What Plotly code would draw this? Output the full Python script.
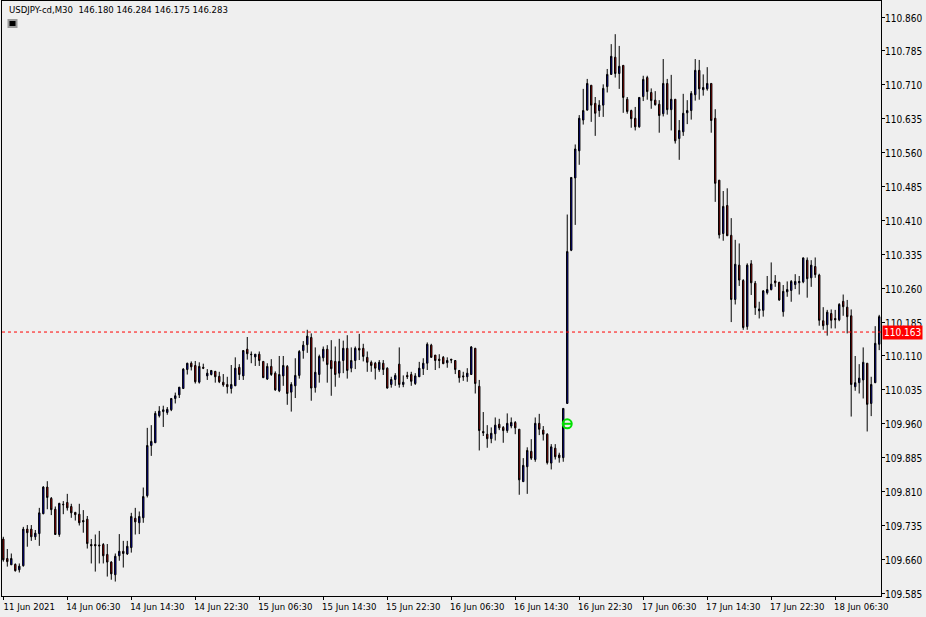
import plotly.graph_objects as go

opens = [109.705,109.662,109.648,109.649,109.637,109.646,109.727,109.727,109.710,109.717,109.761,109.820,109.795,109.771,109.715,109.782,109.786,109.777,109.764,109.760,
109.746,109.749,109.693,109.693,109.692,109.693,109.671,109.654,109.626,109.668,109.678,109.672,109.686,109.751,109.741,109.752,109.801,109.912,109.918,109.978,
109.987,109.985,109.991,110.016,110.024,110.038,110.080,110.094,110.089,110.052,110.085,110.066,110.069,110.076,110.065,110.052,110.047,110.038,110.044,110.085,
110.066,110.125,110.114,110.108,110.114,110.098,110.059,110.087,110.072,110.033,110.066,110.087,110.030,110.044,110.067,110.122,110.135,110.151,110.040,110.069,
110.106,110.125,110.100,110.098,110.072,110.100,110.127,110.083,110.100,110.127,110.127,110.107,110.096,110.094,110.080,110.094,110.083,110.047,110.058,110.092,
110.047,110.067,110.069,110.049,110.064,110.082,110.094,110.134,110.112,110.103,110.107,110.095,110.103,110.100,110.078,110.066,110.064,110.069,110.127,110.043,
109.943,109.937,109.927,109.938,109.959,109.952,109.945,109.955,109.963,109.948,109.832,109.865,109.899,109.881,109.961,109.946,109.937,109.873,109.906,109.891,
109.885,110.005,110.344,110.504,110.564,110.632,110.654,110.709,110.669,110.653,110.665,110.706,110.733,110.771,110.735,110.753,110.678,110.653,110.636,110.617,
110.684,110.726,110.693,110.676,110.667,110.646,110.713,110.655,110.678,110.591,110.606,110.648,110.653,110.688,110.742,110.699,110.701,110.713,110.636,110.499,
110.381,110.443,110.377,110.235,110.311,110.277,110.175,110.314,110.271,110.210,110.211,110.250,110.257,110.276,110.273,110.208,110.252,110.255,110.268,110.272,
110.274,110.322,110.283,110.308,110.289,110.188,110.179,110.204,110.193,110.190,110.231,110.218,110.199,110.042,110.051,110.057,110.094,110.005,110.051,110.136]

highs = [109.710,109.683,109.673,109.651,109.651,109.732,109.736,109.736,109.725,109.774,109.822,109.833,109.798,109.777,109.785,109.789,109.805,109.783,109.765,109.783,
109.769,109.756,109.705,109.715,109.723,109.696,109.694,109.656,109.673,109.716,109.701,109.701,109.763,109.774,109.766,109.819,109.951,109.957,109.988,109.999,
110.000,109.997,110.016,110.029,110.041,110.083,110.095,110.098,110.099,110.096,110.093,110.081,110.079,110.077,110.075,110.070,110.064,110.090,110.107,110.092,
110.123,110.152,110.120,110.114,110.120,110.098,110.094,110.103,110.076,110.110,110.110,110.090,110.052,110.105,110.123,110.143,110.168,110.160,110.129,110.113,
110.131,110.134,110.145,110.131,110.148,110.144,110.156,110.129,110.131,110.159,110.137,110.120,110.100,110.097,110.101,110.101,110.085,110.064,110.072,110.129,
110.067,110.075,110.075,110.072,110.097,110.105,110.140,110.137,110.112,110.114,110.110,110.107,110.103,110.101,110.079,110.075,110.083,110.132,110.128,110.057,
109.986,109.957,109.952,109.974,109.971,109.955,109.983,109.974,109.966,109.948,109.884,109.908,109.926,109.974,109.982,109.955,109.939,109.915,109.915,109.896,
109.994,110.423,110.505,110.578,110.643,110.701,110.723,110.709,110.683,110.676,110.711,110.745,110.800,110.822,110.796,110.753,110.683,110.655,110.661,110.682,
110.730,110.730,110.702,110.696,110.676,110.767,110.723,110.732,110.678,110.632,110.690,110.676,110.696,110.767,110.765,110.733,110.749,110.713,110.656,110.499,
110.475,110.481,110.415,110.367,110.359,110.280,110.315,110.322,110.276,110.230,110.256,110.287,110.317,110.289,110.274,110.267,110.275,110.278,110.291,110.287,
110.328,110.328,110.322,110.328,110.292,110.218,110.212,110.213,110.212,110.227,110.246,110.234,110.213,110.110,110.092,110.129,110.094,110.064,110.176,110.201]

lows = [109.655,109.644,109.648,109.633,109.631,109.644,109.688,109.701,109.703,109.690,109.760,109.771,109.758,109.715,109.710,109.760,109.768,109.752,109.746,109.735,
109.719,109.684,109.651,109.633,109.651,109.651,109.622,109.615,109.611,109.657,109.642,109.670,109.675,109.715,109.716,109.741,109.797,109.889,109.918,109.974,
109.953,109.980,109.988,110.005,110.017,110.038,110.069,110.078,110.049,110.049,110.081,110.057,110.067,110.051,110.050,110.042,110.027,110.027,110.044,110.057,
110.057,110.102,110.094,110.088,110.088,110.062,110.057,110.066,110.033,110.030,110.044,110.002,109.987,110.017,110.060,110.104,110.117,110.011,110.029,110.051,
110.098,110.051,110.022,110.042,110.062,110.072,110.060,110.074,110.081,110.101,110.098,110.075,110.075,110.058,110.075,110.068,110.038,110.040,110.044,110.040,
110.041,110.059,110.044,110.046,110.064,110.068,110.079,110.106,110.079,110.083,110.092,110.084,110.094,110.070,110.051,110.055,110.053,110.068,110.027,109.901,
109.933,109.907,109.917,109.923,109.946,109.918,109.940,109.950,109.937,109.803,109.832,109.805,109.880,109.876,109.935,109.923,109.870,109.859,109.881,109.874,
109.876,110.005,110.342,110.400,110.533,110.622,110.653,110.628,110.597,110.639,110.639,110.693,110.732,110.726,110.701,110.648,110.646,110.615,110.609,110.615,
110.674,110.677,110.657,110.664,110.604,110.640,110.644,110.609,110.580,110.544,110.597,110.623,110.633,110.675,110.677,110.686,110.697,110.604,110.451,110.370,
110.365,110.376,110.185,110.224,110.265,110.168,110.168,110.245,110.201,110.193,110.197,110.246,110.255,110.263,110.232,110.197,110.241,110.230,110.258,110.246,
110.271,110.239,110.263,110.283,110.177,110.168,110.155,110.171,110.171,110.187,110.199,110.160,109.976,110.033,110.027,110.016,109.943,109.977,110.050,110.123]

closes = [109.659,109.655,109.662,109.635,109.645,109.727,109.719,109.710,109.718,109.763,109.820,109.797,109.770,109.715,109.784,109.781,109.774,109.763,109.759,109.741,
109.743,109.695,109.690,109.690,109.690,109.668,109.654,109.628,109.667,109.678,109.673,109.689,109.755,109.743,109.755,109.799,109.912,109.921,109.983,109.988,
109.991,109.992,110.016,110.022,110.041,110.081,110.094,110.086,110.053,110.087,110.083,110.072,110.078,110.064,110.053,110.046,110.042,110.047,110.083,110.069,
110.122,110.115,110.113,110.114,110.100,110.062,110.087,110.069,110.035,110.069,110.089,110.027,110.047,110.067,110.120,110.134,110.154,110.039,110.074,110.109,
110.125,110.091,110.082,110.069,110.098,110.127,110.078,110.100,110.127,110.123,110.109,110.096,110.089,110.083,110.096,110.080,110.039,110.058,110.067,110.047,
110.052,110.064,110.054,110.066,110.083,110.094,110.136,110.107,110.100,110.100,110.093,110.100,110.101,110.080,110.062,110.064,110.072,110.130,110.049,109.945,
109.940,109.927,109.939,109.957,109.951,109.945,109.961,109.963,109.951,109.836,109.868,109.901,109.884,109.961,109.948,109.937,109.874,109.909,109.887,109.885,
109.994,110.341,110.505,110.568,110.636,110.653,110.713,110.665,110.647,110.665,110.702,110.733,110.773,110.735,110.751,110.682,110.651,110.635,110.617,110.682,
110.722,110.695,110.675,110.666,110.642,110.713,110.655,110.678,110.586,110.609,110.647,110.653,110.691,110.742,110.701,110.704,110.713,110.631,110.492,110.378,
110.441,110.376,110.235,110.313,110.278,110.173,110.311,110.272,110.217,110.214,110.254,110.257,110.269,110.272,110.234,110.253,110.257,110.275,110.275,110.275,
110.327,110.281,110.311,110.290,110.189,110.177,110.207,110.189,110.190,110.224,110.219,110.197,110.047,110.051,110.061,110.096,110.003,110.047,110.138,110.197]

price_ticks = [110.860,110.785,110.710,110.635,110.560,110.485,110.410,110.335,110.260,110.185,110.110,110.035,109.960,109.885,109.810,109.735,109.660,109.585]
time_tick_index = [0,16,32,48,64,80,96,112,128,144,160,176,192,208]
time_tick_text = ["11 Jun 2021","14 Jun 06:30","14 Jun 14:30","14 Jun 22:30","15 Jun 06:30","15 Jun 14:30","15 Jun 22:30",
                  "16 Jun 06:30","16 Jun 14:30","16 Jun 22:30","17 Jun 06:30","17 Jun 14:30","17 Jun 22:30","18 Jun 06:30"]
bid_price = 110.163
signal_index = [141]
signal_price = [109.960]
header = "USDJPY-cd,M30&nbsp;&nbsp;146.180 146.284 146.175 146.283"

FONT = "DejaVu Sans Condensed, DejaVu Sans"
BG = "#EFEFEF"
GREEN = "#00E000"
x = list(range(len(opens)))

fig = go.Figure()
fig.add_trace(go.Candlestick(
    x=x, open=opens, high=highs, low=lows, close=closes,
    increasing=dict(fillcolor="#0000CC", line=dict(color="#000000", width=1)),
    decreasing=dict(fillcolor="#CC0000", line=dict(color="#000000", width=1)),
    whiskerwidth=0, showlegend=False, hoverinfo="skip",
))
fig.add_trace(go.Scatter(
    x=signal_index, y=signal_price, mode="markers", showlegend=False, hoverinfo="skip",
    marker=dict(symbol="circle-open", size=9, color=GREEN, line=dict(color=GREEN, width=2)),
))
fig.add_trace(go.Scatter(
    x=signal_index, y=signal_price, mode="markers", showlegend=False, hoverinfo="skip",
    marker=dict(symbol="line-ew-open", size=6, color=GREEN, line=dict(color=GREEN, width=2)),
))

fig.add_shape(type="line", xref="paper", yref="y", x0=0, x1=1, y0=bid_price, y1=bid_price,
              line=dict(color="#FF0000", width=1, dash="3px,3px"))
fig.add_shape(type="rect", xref="paper", yref="paper", x0=6.5/879, x1=14.5/879, y0=(596-27)/595, y1=(596-20)/595,
              fillcolor="#000000", line=dict(color="#9A9A9A", width=2))
fig.add_annotation(xref="paper", yref="paper", x=4.5/879, y=(596-10)/595, text=header, showarrow=False,
                   xanchor="left", yanchor="middle", font=dict(family=FONT, size=9.5, color="#000000"))
fig.add_annotation(xref="paper", yref="y", x=1, y=bid_price, text=f"{bid_price:.3f}", showarrow=False,
                   xanchor="left", yanchor="middle", xshift=1, bgcolor="#FF0000", borderpad=1,
                   font=dict(family=FONT, size=10, color="#FFFFFF"))

fig.update_layout(
    width=926, height=617, autosize=False,
    margin=dict(l=2, r=45, t=1, b=21, pad=0),
    paper_bgcolor=BG, plot_bgcolor=BG, boxgap=0.5,
    showlegend=False,
    font=dict(family=FONT, size=10, color="#000000"),
    xaxis=dict(range=[-0.325, 219.45], rangeslider=dict(visible=False), tickmode="array",
               tickvals=time_tick_index, ticktext=time_tick_text, ticks="outside", ticklen=3, tickwidth=1,
               tickcolor="#000000", showgrid=False, zeroline=False, showline=True, linecolor="#000000",
               linewidth=1, mirror=True, ticklabelshift=26, ticklabelstandoff=-1, tickangle=0,
               tickfont=dict(family=FONT, size=9.5, color="#000000")),
    yaxis=dict(range=[109.579, 110.8954], side="right", tickmode="array", tickvals=price_ticks,
               ticktext=[f"{v:.3f}" for v in price_ticks], ticks="outside", ticklen=3, tickwidth=1,
               tickcolor="#000000", showgrid=False, zeroline=False, showline=True, linecolor="#000000",
               linewidth=1, mirror=True, ticklabelshift=1, ticklabelstandoff=-2,
               tickfont=dict(family=FONT, size=10, color="#000000")),
)
fig.write_html("out.html", post_script="document.body.style.margin='0';", config={"displayModeBar": False})
